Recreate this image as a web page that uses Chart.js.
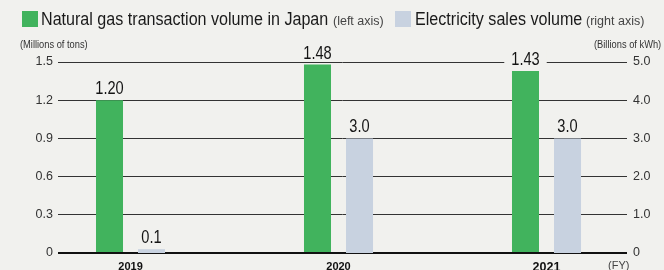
<!DOCTYPE html>
<html><head><meta charset="utf-8">
<script src="https://cdn.jsdelivr.net/npm/chart.js@4.4.0/dist/chart.umd.min.js"></script>
<style>
html,body{margin:0;padding:0;background:#f1f1ee;}
#wrap{position:relative;width:664px;height:270px;overflow:hidden;background:#f1f1ee;}
canvas{position:absolute;left:0;top:0;}
.t{position:absolute;white-space:nowrap;font-family:'Liberation Sans',Arial,sans-serif;color:#1a1a1a;line-height:1;transform-origin:0 0;}
.sq{position:absolute;}
</style></head>
<body>
<div id="wrap">
<canvas id="c" width="664" height="270"></canvas>
<div class="sq" style="left:22px;top:11px;width:16px;height:16px;background:#41b35d"></div>
<div class="t" style="left:41px;top:11px;font-size:17.5px;transform:scaleX(0.92)">Natural gas transaction volume in Japan</div>
<div class="t" style="left:333px;top:15.2px;font-size:12.5px;color:#444">(left axis)</div>
<div class="sq" style="left:395px;top:11px;width:16px;height:16px;background:#c8d2e0"></div>
<div class="t" style="left:415px;top:11px;font-size:17.5px;transform:scaleX(0.92)">Electricity sales volume</div>
<div class="t" style="left:586px;top:15.2px;font-size:12.5px;color:#444">(right axis)</div>
<div class="t" style="left:20px;top:39.5px;font-size:10px;color:#333;transform:scaleX(0.93)">(Millions of tons)</div>
<div class="t" style="left:594px;top:39.5px;font-size:10px;color:#333;transform:scaleX(0.93)">(Billions of kWh)</div>
<div class="t" style="left:608px;top:259.5px;font-size:11px;color:#444">(FY)</div>
</div>
<script>
const years = ['2019', '2020', '2021'];
const gasVolume = [1.20, 1.48, 1.43];
const electricitySales = [0.1, 3.0, 3.0];
const gasLabels = ['1.20', '1.48', '1.43'];
const elecLabels = ['0.1', '3.0', '3.0'];
const leftTicks = [0, 0.3, 0.6, 0.9, 1.2, 1.5];
const rightTicks = [0, 1, 2, 3, 4, 5];

const FONT = "'Liberation Sans',Arial,sans-serif";
const BG = '#f1f1ee';
const LABEL_SIZE = 18.5;
const LABEL_SCALE = 0.79;

function eachLabel(chart, fn) {
  const sets = [gasLabels, elecLabels];
  chart.data.datasets.forEach((ds, di) => {
    const meta = chart.getDatasetMeta(di);
    meta.data.forEach((el, i) => fn(sets[di][i], el));
  });
}

const valueLabels = {
  id: 'valueLabels',
  beforeDatasetsDraw(chart) {
    const ctx = chart.ctx;
    ctx.save();
    ctx.font = LABEL_SIZE + 'px ' + FONT;
    eachLabel(chart, (txt, el) => {
      const w = ctx.measureText(txt).width * LABEL_SCALE;
      const base = el.y - 6;
      ctx.fillStyle = BG;
      ctx.fillRect(el.x - w / 2 - 7, base - 15, w + 14, 17.5);
    });
    ctx.restore();
  },
  afterDatasetsDraw(chart) {
    const ctx = chart.ctx;
    ctx.save();
    ctx.font = LABEL_SIZE + 'px ' + FONT;
    ctx.textAlign = 'center';
    ctx.textBaseline = 'alphabetic';
    ctx.fillStyle = '#141414';
    eachLabel(chart, (txt, el) => {
      ctx.save();
      ctx.translate(el.x, el.y - 6);
      ctx.scale(LABEL_SCALE, 1);
      ctx.fillText(txt, 0, 0);
      ctx.restore();
    });
    ctx.restore();
  }
};

new Chart(document.getElementById('c'), {
  type: 'bar',
  data: {
    datasets: [
      {
        label: 'Natural gas transaction volume in Japan',
        data: years.map((_, i) => ({ x: i, y: gasVolume[i] })),
        backgroundColor: '#41b35d',
        yAxisID: 'y'
      },
      {
        label: 'Electricity sales volume',
        data: years.map((_, i) => ({ x: i, y: electricitySales[i] })),
        backgroundColor: '#c8d2e0',
        yAxisID: 'y1'
      }
    ]
  },
  options: {
    responsive: false,
    animation: false,
    devicePixelRatio: 1,
    categoryPercentage: 0.404,
    barPercentage: 0.643,
    layout: { padding: { top: 62, left: 0, right: 0, bottom: 0 } },
    plugins: { legend: { display: false }, tooltip: { enabled: false } },
    scales: {
      x: {
        type: 'linear',
        offset: false,
        min: -0.3486,
        max: 2.387,
        grid: { display: false, offset: false, drawTicks: false },
        border: { display: false },
        afterBuildTicks: s => { s.ticks = years.map((_, i) => ({ value: i })); },
        afterFit: s => { s.height = 17; },
        ticks: {
          padding: 7,
          color: '#111',
          font: ctx => ({ family: FONT, weight: 'bold', size: ctx.index === 2 ? 12.5 : 11 }),
          callback: v => years[v]
        }
      },
      y: {
        position: 'left',
        min: 0,
        max: 1.5,
        afterBuildTicks: s => { s.ticks = leftTicks.map(v => ({ value: v })); },
        afterFit: s => { s.width = 58; },
        border: { display: false },
        grid: {
          drawTicks: false,
          color: c => c.tick && c.tick.value === 0 ? '#111' : '#333',
          lineWidth: c => c.tick && c.tick.value === 0 ? 2 : 1
        },
        ticks: {
          padding: 5,
          color: '#333',
          font: { family: FONT, size: 12.5 },
          callback: v => v === 0 ? '0' : v.toFixed(1)
        }
      },
      y1: {
        position: 'right',
        min: 0,
        max: 5,
        afterBuildTicks: s => { s.ticks = rightTicks.map(v => ({ value: v })); },
        afterFit: s => { s.width = 37; },
        border: { display: false },
        grid: { display: false, drawTicks: false },
        ticks: {
          padding: 6,
          color: '#333',
          font: { family: FONT, size: 12.5 },
          callback: v => v === 0 ? '0' : v.toFixed(1)
        }
      }
    }
  },
  plugins: [valueLabels]
});
</script>
</body></html>
